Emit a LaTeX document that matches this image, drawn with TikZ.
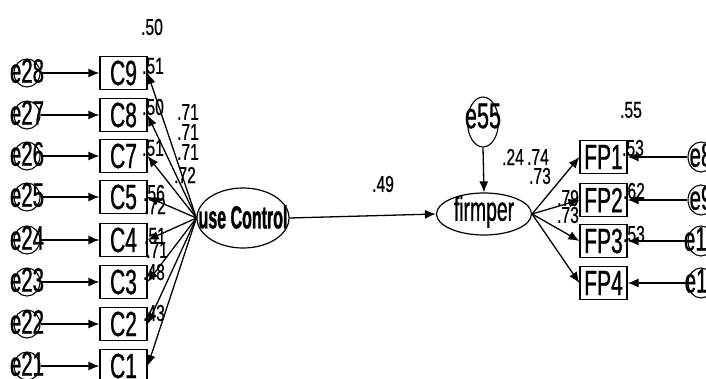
\documentclass[tikz,border=0pt]{standalone}
\usepackage{fontspec}
\setmainfont[FakeStretch=0.6,FakeBold=0.8]{Liberation Sans}
\newfontfamily\labfont[FakeStretch=0.68,FakeBold=0.6]{Liberation Sans}
\newfontfamily\ucfont[FakeStretch=0.5,BoldFeatures={FakeBold=1}]{Liberation Sans}
\usetikzlibrary{arrows.meta,shapes.geometric}
\begin{document}
\begin{tikzpicture}[x=1pt,y=-1pt,
  obs/.style={draw, line width=1.2pt, minimum width=47pt, minimum height=33pt, inner sep=0pt, font=\fontsize{35}{35}\selectfont},
  err/.style={draw, ellipse, line width=1.1pt, minimum width=26pt, minimum height=28pt, inner sep=0pt},
  etext/.style={inner sep=0pt, font=\fontsize{34}{34}\selectfont},
  lat/.style={draw, ellipse, line width=1.2pt, inner sep=0pt},
  lab/.style={inner sep=0pt, font=\labfont\fontsize{23}{23}\selectfont},
  arr/.style={line width=1.3pt, -{Latex[length=11pt,width=9pt]}},
]
\useasboundingbox (0,0) rectangle (706,379);
% left observed + errors
\foreach \c/\e/\y in {C9/e28/73, C8/e27/115, C7/e26/156, C5/e25/197, C4/e24/240, C3/e23/282, C2/e22/324, C1/e21/366}{
  \node[obs] (\c) at (123.5,\y) {\c};
  \node[err] (\e) at (27,\y) {};
  \node[etext] (\e t) at (27,\y-2) {\e};
  \draw[arr] (\e.east) -- (\c.west);
}
% latent use Control
\node[lat, minimum width=92pt, minimum height=60pt] (uc) at (243,218) {};
\node[inner sep=0pt, font=\ucfont\bfseries\fontsize{32}{32}\selectfont] (uct) at (243,217) {use Control};
\foreach \c in {C9,C8,C7,C5,C4,C3,C2,C1}{
  \draw[arr] (uc.west) -- (\c.east);
}
% firmper
\node[lat, minimum width=95pt, minimum height=42pt] (fp) at (484,214) {};
\node[inner sep=0pt, font=\fontsize{34}{34}\selectfont\addfontfeatures{FakeStretch=0.57}] (fpt) at (484,212) {firmper};
\draw[arr] (uc.east) -- (fp.west);
% e55
\node[err, minimum width=31pt, minimum height=50pt] (e55) at (483,122) {};
\node[etext, font=\fontsize{36}{36}\selectfont] (e55t) at (483,116) {e55};
\draw[arr] (e55.south) -- (fp.north);
% right observed
\foreach \f/\e/\y in {FP1/e8/157, FP2/e9/200, FP3/e10/241, FP4/e11/283}{
  \node[obs] (\f) at (603.5,\y) {\f};
  \node[err, minimum height=30pt] (\e) at (701,\y) {};
  \node[etext] (\e t) at (701,\y-2) {\e};
  \draw[arr] (\e.west) -- (\f.east);
  \draw[arr] (fp.east) -- (\f.west);
}
% labels left
\node[lab] (l50) at (152,27) {.50};
\node[lab] (r9) at (153,66) {.51};
\node[lab] (r8) at (153,107) {.50};
\node[lab] (r7) at (153,148) {.51};
\node[lab] (w9) at (188,112) {.71};
\node[lab] (w8) at (188,132) {.71};
\node[lab] (w7) at (188,152) {.71};
\node[lab] (w5) at (185,175) {.72};
\node[lab] (r5) at (154,193) {.56};
\node[lab] (w4) at (155,206) {.72};
\node[lab] (r4) at (155,236) {.51};
\node[lab] (w3) at (157,250) {.71};
\node[lab] (r3) at (154,272) {.48};
\node[lab] (r2) at (154,313) {.43};
% labels right
\node[lab] (l49) at (383,184) {.49};
\node[lab] (l24) at (513,157) {.24};
\node[lab] (l74) at (538,157) {.74};
\node[lab] (l73) at (540,176) {.73};
\node[lab] (l55) at (631,110) {.55};
\node[lab] (q1) at (633,148) {.53};
\node[lab] (q2) at (634,191) {.62};
\node[lab] (q3) at (634,234) {.53};
\node[lab] (l79) at (568,198) {.79};
\node[lab] (l73b) at (568,215) {.73};
\end{tikzpicture}
\end{document}
